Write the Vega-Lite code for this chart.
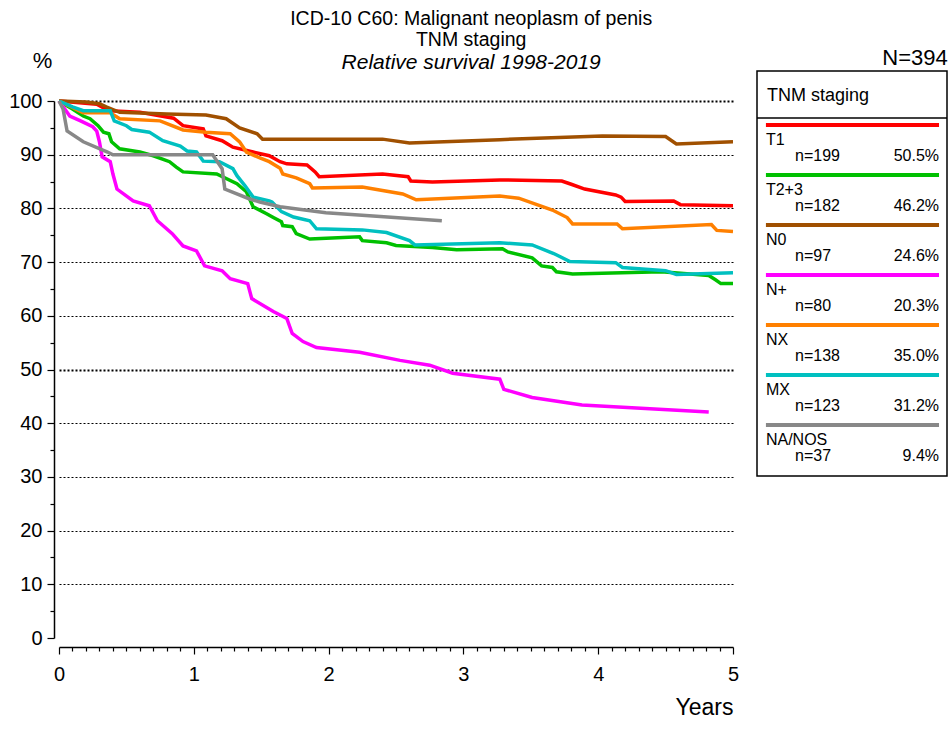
{
  "$schema": "https://vega.github.io/schema/vega-lite/v6.json",
  "background": "white",
  "padding": {"left": 8, "top": 8, "right": 0, "bottom": 0},
  "config": {
    "font": "Liberation Sans",
    "view": {"stroke": null},
    "title": {"color": "black", "fontWeight": "normal", "font": "Liberation Sans"},
    "concat": {"spacing": 16}
  },
  "title": {
    "text": ["ICD-10 C60: Malignant neoplasm of penis", "TNM staging"],
    "fontSize": 19.5,
    "lineHeight": 21,
    "subtitle": "Relative survival 1998-2019",
    "subtitleFontSize": 21,
    "subtitleFontStyle": "italic",
    "subtitleColor": "black",
    "subtitleFont": "Liberation Sans",
    "subtitlePadding": 2,
    "anchor": "middle",
    "dx": -7,
    "offset": -27
  },
  "datasets": {
    "curves": [
      {"g":"T1","t":0,"s":100},{"g":"T1","t":0.28,"s":99.4},{"g":"T1","t":0.37,"s":98.2},{"g":"T1","t":0.6,"s":97.9},{"g":"T1","t":0.85,"s":96.8},{"g":"T1","t":0.92,"s":95.4},{"g":"T1","t":1.07,"s":94.8},{"g":"T1","t":1.09,"s":93.5},{"g":"T1","t":1.21,"s":92.6},{"g":"T1","t":1.29,"s":91.4},{"g":"T1","t":1.44,"s":90.5},{"g":"T1","t":1.56,"s":89.8},{"g":"T1","t":1.64,"s":88.7},{"g":"T1","t":1.69,"s":88.3},{"g":"T1","t":1.84,"s":88.1},{"g":"T1","t":1.9,"s":86.8},{"g":"T1","t":1.93,"s":85.9},{"g":"T1","t":2.4,"s":86.4},{"g":"T1","t":2.59,"s":85.9},{"g":"T1","t":2.61,"s":85.1},{"g":"T1","t":2.77,"s":84.9},{"g":"T1","t":3.27,"s":85.3},{"g":"T1","t":3.73,"s":85.1},{"g":"T1","t":3.8,"s":84.5},{"g":"T1","t":3.9,"s":83.6},{"g":"T1","t":4.13,"s":82.5},{"g":"T1","t":4.17,"s":82.1},{"g":"T1","t":4.2,"s":81.3},{"g":"T1","t":4.56,"s":81.4},{"g":"T1","t":4.61,"s":80.7},{"g":"T1","t":5.0,"s":80.5},
      {"g":"T2+3","t":0,"s":100},{"g":"T2+3","t":0.1,"s":98.5},{"g":"T2+3","t":0.18,"s":97.2},{"g":"T2+3","t":0.23,"s":96.7},{"g":"T2+3","t":0.29,"s":95.4},{"g":"T2+3","t":0.33,"s":94.2},{"g":"T2+3","t":0.37,"s":93.9},{"g":"T2+3","t":0.39,"s":92.4},{"g":"T2+3","t":0.45,"s":91.1},{"g":"T2+3","t":0.6,"s":90.5},{"g":"T2+3","t":0.7,"s":89.8},{"g":"T2+3","t":0.82,"s":88.7},{"g":"T2+3","t":0.87,"s":87.7},{"g":"T2+3","t":0.92,"s":86.8},{"g":"T2+3","t":1.17,"s":86.4},{"g":"T2+3","t":1.32,"s":84.6},{"g":"T2+3","t":1.39,"s":83.1},{"g":"T2+3","t":1.44,"s":80.3},{"g":"T2+3","t":1.54,"s":79.0},{"g":"T2+3","t":1.59,"s":78.3},{"g":"T2+3","t":1.65,"s":77.5},{"g":"T2+3","t":1.66,"s":76.8},{"g":"T2+3","t":1.73,"s":76.6},{"g":"T2+3","t":1.76,"s":75.3},{"g":"T2+3","t":1.86,"s":74.3},{"g":"T2+3","t":2.23,"s":74.7},{"g":"T2+3","t":2.25,"s":74.0},{"g":"T2+3","t":2.43,"s":73.6},{"g":"T2+3","t":2.5,"s":73.1},{"g":"T2+3","t":2.77,"s":72.7},{"g":"T2+3","t":2.95,"s":72.3},{"g":"T2+3","t":3.29,"s":72.5},{"g":"T2+3","t":3.33,"s":71.9},{"g":"T2+3","t":3.51,"s":70.8},{"g":"T2+3","t":3.58,"s":69.3},{"g":"T2+3","t":3.66,"s":69.0},{"g":"T2+3","t":3.69,"s":68.2},{"g":"T2+3","t":3.81,"s":67.8},{"g":"T2+3","t":4.47,"s":68.2},{"g":"T2+3","t":4.82,"s":67.5},{"g":"T2+3","t":4.87,"s":66.7},{"g":"T2+3","t":4.91,"s":66.0},{"g":"T2+3","t":5.0,"s":66.0},
      {"g":"N0","t":0,"s":100},{"g":"N0","t":0.2,"s":99.8},{"g":"N0","t":0.3,"s":99.5},{"g":"N0","t":0.35,"s":98.9},{"g":"N0","t":0.45,"s":97.9},{"g":"N0","t":0.8,"s":97.6},{"g":"N0","t":1.09,"s":97.4},{"g":"N0","t":1.24,"s":96.7},{"g":"N0","t":1.34,"s":95.0},{"g":"N0","t":1.47,"s":93.9},{"g":"N0","t":1.51,"s":92.9},{"g":"N0","t":2.4,"s":92.9},{"g":"N0","t":2.6,"s":92.2},{"g":"N0","t":3.27,"s":92.8},{"g":"N0","t":4.03,"s":93.5},{"g":"N0","t":4.5,"s":93.4},{"g":"N0","t":4.58,"s":92.0},{"g":"N0","t":5.0,"s":92.4},
      {"g":"N+","t":0,"s":100},{"g":"N+","t":0.08,"s":97.2},{"g":"N+","t":0.16,"s":96.3},{"g":"N+","t":0.25,"s":95.2},{"g":"N+","t":0.28,"s":94.4},{"g":"N+","t":0.3,"s":92.4},{"g":"N+","t":0.32,"s":89.6},{"g":"N+","t":0.38,"s":88.7},{"g":"N+","t":0.4,"s":86.4},{"g":"N+","t":0.43,"s":83.6},{"g":"N+","t":0.55,"s":81.4},{"g":"N+","t":0.67,"s":80.5},{"g":"N+","t":0.73,"s":77.7},{"g":"N+","t":0.84,"s":75.3},{"g":"N+","t":0.92,"s":73.0},{"g":"N+","t":1.02,"s":72.1},{"g":"N+","t":1.08,"s":69.3},{"g":"N+","t":1.21,"s":68.4},{"g":"N+","t":1.27,"s":66.9},{"g":"N+","t":1.4,"s":66.0},{"g":"N+","t":1.43,"s":63.2},{"g":"N+","t":1.59,"s":60.8},{"g":"N+","t":1.69,"s":59.5},{"g":"N+","t":1.73,"s":56.7},{"g":"N+","t":1.81,"s":55.2},{"g":"N+","t":1.91,"s":54.1},{"g":"N+","t":2.23,"s":53.2},{"g":"N+","t":2.53,"s":51.7},{"g":"N+","t":2.75,"s":50.8},{"g":"N+","t":2.92,"s":49.3},{"g":"N+","t":3.27,"s":48.2},{"g":"N+","t":3.3,"s":46.3},{"g":"N+","t":3.51,"s":44.8},{"g":"N+","t":3.88,"s":43.4},{"g":"N+","t":4.82,"s":42.1},
      {"g":"NX","t":0,"s":100},{"g":"NX","t":0.18,"s":97.8},{"g":"NX","t":0.38,"s":97.8},{"g":"NX","t":0.45,"s":96.7},{"g":"NX","t":0.75,"s":96.3},{"g":"NX","t":0.92,"s":94.6},{"g":"NX","t":1.09,"s":94.2},{"g":"NX","t":1.27,"s":93.9},{"g":"NX","t":1.34,"s":92.4},{"g":"NX","t":1.39,"s":90.5},{"g":"NX","t":1.49,"s":89.4},{"g":"NX","t":1.56,"s":88.7},{"g":"NX","t":1.64,"s":87.5},{"g":"NX","t":1.66,"s":86.4},{"g":"NX","t":1.76,"s":85.7},{"g":"NX","t":1.86,"s":84.6},{"g":"NX","t":1.88,"s":83.8},{"g":"NX","t":2.25,"s":84.0},{"g":"NX","t":2.55,"s":82.7},{"g":"NX","t":2.65,"s":81.6},{"g":"NX","t":3.27,"s":82.3},{"g":"NX","t":3.41,"s":81.9},{"g":"NX","t":3.66,"s":79.7},{"g":"NX","t":3.77,"s":78.3},{"g":"NX","t":3.81,"s":77.1},{"g":"NX","t":4.14,"s":77.1},{"g":"NX","t":4.18,"s":76.2},{"g":"NX","t":4.84,"s":77.0},{"g":"NX","t":4.88,"s":75.9},{"g":"NX","t":5.0,"s":75.7},
      {"g":"MX","t":0,"s":100},{"g":"MX","t":0.1,"s":98.9},{"g":"MX","t":0.18,"s":98.2},{"g":"MX","t":0.38,"s":98.2},{"g":"MX","t":0.41,"s":96.3},{"g":"MX","t":0.5,"s":95.4},{"g":"MX","t":0.54,"s":94.7},{"g":"MX","t":0.67,"s":94.2},{"g":"MX","t":0.77,"s":92.6},{"g":"MX","t":0.9,"s":91.6},{"g":"MX","t":0.95,"s":90.7},{"g":"MX","t":1.02,"s":90.5},{"g":"MX","t":1.07,"s":88.8},{"g":"MX","t":1.19,"s":88.7},{"g":"MX","t":1.29,"s":87.4},{"g":"MX","t":1.32,"s":86.1},{"g":"MX","t":1.38,"s":84.2},{"g":"MX","t":1.44,"s":82.1},{"g":"MX","t":1.56,"s":81.4},{"g":"MX","t":1.58,"s":81.2},{"g":"MX","t":1.65,"s":79.4},{"g":"MX","t":1.74,"s":78.4},{"g":"MX","t":1.86,"s":77.7},{"g":"MX","t":1.91,"s":76.2},{"g":"MX","t":2.25,"s":76.0},{"g":"MX","t":2.43,"s":75.5},{"g":"MX","t":2.6,"s":74.0},{"g":"MX","t":2.64,"s":73.2},{"g":"MX","t":3.27,"s":73.6},{"g":"MX","t":3.51,"s":73.2},{"g":"MX","t":3.67,"s":71.6},{"g":"MX","t":3.79,"s":70.1},{"g":"MX","t":4.13,"s":69.9},{"g":"MX","t":4.18,"s":69.0},{"g":"MX","t":4.5,"s":68.4},{"g":"MX","t":4.58,"s":67.7},{"g":"MX","t":5.0,"s":68.0},
      {"g":"NA/NOS","t":0,"s":100},{"g":"NA/NOS","t":0.03,"s":98.5},{"g":"NA/NOS","t":0.06,"s":94.4},{"g":"NA/NOS","t":0.18,"s":92.4},{"g":"NA/NOS","t":0.36,"s":90.5},{"g":"NA/NOS","t":0.4,"s":90.0},{"g":"NA/NOS","t":1.14,"s":90.0},{"g":"NA/NOS","t":1.21,"s":87.4},{"g":"NA/NOS","t":1.23,"s":83.6},{"g":"NA/NOS","t":1.41,"s":81.8},{"g":"NA/NOS","t":1.49,"s":81.2},{"g":"NA/NOS","t":1.64,"s":80.3},{"g":"NA/NOS","t":1.98,"s":79.2},{"g":"NA/NOS","t":2.84,"s":77.7}
    ],
    "legend": [
      {"g":"T1","rank":1,"n":"n=199","pct":"50.5%"},
      {"g":"T2+3","rank":2,"n":"n=182","pct":"46.2%"},
      {"g":"N0","rank":3,"n":"n=97","pct":"24.6%"},
      {"g":"N+","rank":4,"n":"n=80","pct":"20.3%"},
      {"g":"NX","rank":5,"n":"n=138","pct":"35.0%"},
      {"g":"MX","rank":6,"n":"n=123","pct":"31.2%"},
      {"g":"NA/NOS","rank":7,"n":"n=37","pct":"9.4%"}
    ]
  },
  "hconcat": [
    {
      "width": 674,
      "height": 537,
      "title": {"text": "%", "anchor": "start", "frame": "bounds", "fontSize": 22, "dx": 24, "offset": 18},
      "data": {"name": "curves"},
      "mark": {"type": "line", "strokeWidth": 3.5, "clip": false},
      "encoding": {
        "x": {
          "field": "t", "type": "quantitative",
          "scale": {"domain": [0, 5], "nice": false, "zero": false},
          "axis": {
            "values": [0,0.1,0.2,0.3,0.4,0.5,0.6,0.7,0.8,0.9,1,1.1,1.2,1.3,1.4,1.5,1.6,1.7,1.8,1.9,2,2.1,2.2,2.3,2.4,2.5,2.6,2.7,2.8,2.9,3,3.1,3.2,3.3,3.4,3.5,3.6,3.7,3.8,3.9,4,4.1,4.2,4.3,4.4,4.5,4.6,4.7,4.8,4.9,5],
            "labelExpr": "datum.value % 1 == 0 ? format(datum.value, 'd') : ''",
            "tickSize": {"condition": {"test": "datum.value % 1 == 0", "value": 7}, "value": 4},
            "grid": false,
            "domainColor": "black", "domainWidth": 1.5,
            "tickColor": "black", "tickWidth": 1.2,
            "labelFontSize": 20, "labelColor": "black", "labelPadding": 10,
            "labelOverlap": false, "labelFlush": false, "labelBound": false,
            "offset": 9,
            "title": "Years", "titleFontSize": 23, "titleFontWeight": "normal", "titleColor": "black",
            "titleAnchor": "end", "titlePadding": 12
          }
        },
        "y": {
          "field": "s", "type": "quantitative",
          "scale": {"domain": [0, 100], "nice": false, "zero": false},
          "axis": {
            "values": [0,5,10,15,20,25,30,35,40,45,50,55,60,65,70,75,80,85,90,95,100],
            "labelExpr": "datum.value % 10 == 0 ? datum.label : ''",
            "tickSize": {"condition": {"test": "datum.value % 10 == 0", "value": 7}, "value": 4},
            "grid": true, "gridColor": "black", "gridDash": [2, 2],
            "gridOpacity": {"condition": {"test": "datum.value % 10 == 0 && datum.value > 0", "value": 1}, "value": 0},
            "gridWidth": {"condition": {"test": "datum.value == 50 || datum.value == 100", "value": 2}, "value": 1},
            "domainColor": "black", "domainWidth": 1.5,
            "tickColor": "black", "tickWidth": 1.2,
            "labelFontSize": 20, "labelColor": "black", "labelPadding": 5,
            "labelOverlap": false, "labelBound": false,
            "offset": 5,
            "title": null
          }
        },
        "color": {
          "field": "g", "type": "nominal",
          "scale": {"domain": ["T1","T2+3","N0","N+","NX","MX","NA/NOS"], "range": ["#ff0000","#00c000","#a05000","#ff00ff","#ff8000","#00c0c0","#888888"]},
          "legend": null
        }
      }
    },
    {
      "width": 190,
      "height": 375,
      "title": {"text": "N=394", "anchor": "end", "fontSize": 22, "offset": 0},
      "data": {"name": "legend"},
      "layer": [
        {
          "data": {"values": [{"label": "box"}]},
          "mark": {"type": "rect", "fill": "white", "stroke": "black", "strokeWidth": 1.5, "clip": false},
          "encoding": {
            "x": {"datum": 0, "type": "quantitative", "scale": {"domain": [0, 100], "nice": false, "zero": false}, "axis": null},
            "x2": {"datum": 100},
            "y": {"datum": -0.08, "type": "quantitative", "scale": {"domain": [0.52, 8.02], "nice": false, "zero": false, "reverse": true}, "axis": null},
            "y2": {"datum": 8.02}
          }
        },
        {
          "mark": {"type": "rule", "strokeWidth": 4},
          "encoding": {
            "x": {"datum": 4.7, "type": "quantitative"},
            "x2": {"datum": 95.8},
            "y": {"field": "rank", "type": "quantitative"},
            "color": {"field": "g", "type": "nominal", "legend": null}
          }
        },
        {
          "mark": {"type": "text", "align": "left", "baseline": "middle", "dy": 15, "fontSize": 16, "color": "black"},
          "encoding": {
            "x": {"datum": 4.7, "type": "quantitative"},
            "y": {"field": "rank", "type": "quantitative"},
            "text": {"field": "g"}
          }
        },
        {
          "mark": {"type": "text", "align": "left", "baseline": "middle", "dy": 30.5, "fontSize": 16, "color": "black"},
          "encoding": {
            "x": {"datum": 20, "type": "quantitative"},
            "y": {"field": "rank", "type": "quantitative"},
            "text": {"field": "n"}
          }
        },
        {
          "mark": {"type": "text", "align": "right", "baseline": "middle", "dy": 30.5, "fontSize": 16, "color": "black"},
          "encoding": {
            "x": {"datum": 95.8, "type": "quantitative"},
            "y": {"field": "rank", "type": "quantitative"},
            "text": {"field": "pct"}
          }
        },
        {
          "data": {"values": [{"label": "TNM staging"}]},
          "mark": {"type": "rule", "color": "black", "strokeWidth": 1.5},
          "encoding": {"y": {"datum": 0.86, "type": "quantitative"}}
        },
        {
          "data": {"values": [{"label": "TNM staging"}]},
          "mark": {"type": "text", "align": "left", "baseline": "middle", "fontSize": 18, "color": "black", "clip": false},
          "encoding": {
            "x": {"datum": 5.3, "type": "quantitative"},
            "y": {"datum": 0.414, "type": "quantitative"},
            "text": {"field": "label"}
          }
        }
      ]
    }
  ]
}
